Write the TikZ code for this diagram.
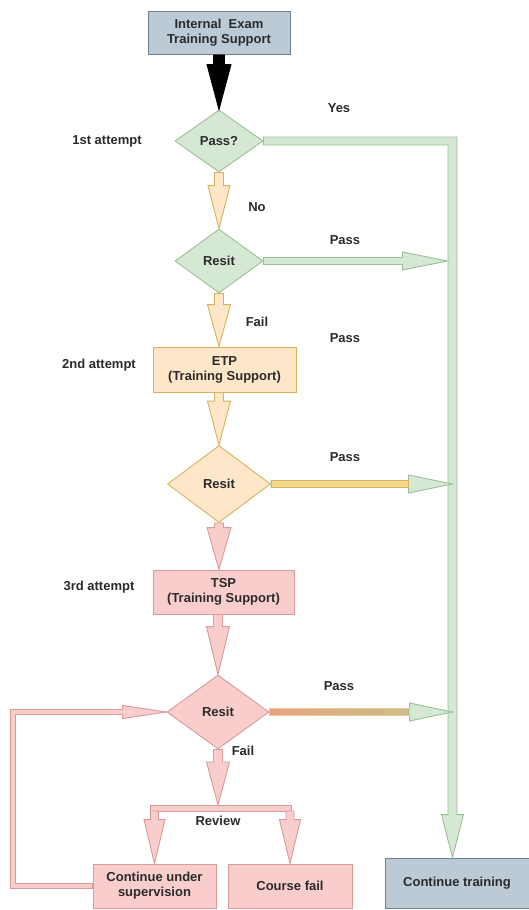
\documentclass[tikz,border=0pt]{standalone}
\usepackage{fontspec}
\setmainfont{Liberation Sans}
\usetikzlibrary{shapes.geometric,calc}

\definecolor{grnF}{HTML}{D5E8D4}
\definecolor{grnD}{HTML}{9CC096}
\definecolor{orgF}{HTML}{FEE6C8}
\definecolor{orgD}{HTML}{D8B25E}
\definecolor{pnkF}{HTML}{F8CDCC}
\definecolor{pnkD}{HTML}{D99A98}
\definecolor{bluF}{HTML}{BCCAD6}
\definecolor{bluD}{HTML}{6F8294}
\definecolor{ylwF}{HTML}{F3D98C}
\definecolor{ylwD}{HTML}{D6B656}
\definecolor{salF}{HTML}{E9A283}
\definecolor{tanF}{HTML}{C8BE88}
\definecolor{txt}{HTML}{2B2B2B}

% block arrow pointing down: style, from, to, shaft half-width, head half-width, head length
\newcommand\fatdown[6]{%
  \path[#1] let \p1=(#2), \p2=(#3) in
    (\x1-#4pt,\y1) -- (\x1-#4pt,\y2+#6pt) -- (\x1-#5pt,\y2+#6pt) -- (\x1,\y2)
    -- (\x1+#5pt,\y2+#6pt) -- (\x1+#4pt,\y2+#6pt) -- (\x1+#4pt,\y1) -- cycle;}
% block arrow pointing right: style, from, to, shaft half-height, head half-height, head length
\newcommand\fatright[6]{%
  \path[#1] let \p1=(#2), \p2=(#3) in
    (\x1,\y1+#4pt) -- (\x2-#6pt,\y1+#4pt) -- (\x2-#6pt,\y1+#5pt) -- (\x2,\y1)
    -- (\x2-#6pt,\y1-#5pt) -- (\x2-#6pt,\y1-#4pt) -- (\x1,\y1-#4pt) -- cycle;}
% shaft of a right block arrow only (for two-tone arrows)
\newcommand\fatshaft[5]{%
  \path[#1] let \p1=(#2), \p2=(#3) in
    (\x1,\y1+#4pt) rectangle (\x2-#5pt,\y1-#4pt);}

\tikzset{
  box/.style={draw, rectangle, align=center, inner sep=0pt, line width=0.9pt},
  decision/.style={draw, diamond, aspect=1.4, inner sep=0pt, line width=0.9pt, align=center},
  lbl/.style={inner sep=0pt},
  fatG/.style={fill=grnF, draw=grnD, line width=0.9pt, line join=miter},
  fatO/.style={fill=orgF, draw=orgD, line width=0.9pt, line join=miter},
  fatP/.style={fill=pnkF, draw=pnkD, line width=0.9pt, line join=miter},
  fatK/.style={fill=black, draw=black, line width=0.9pt, line join=miter},
}

\begin{document}
\begin{tikzpicture}[x=1pt, y=-1pt,
  font=\fontsize{13}{15}\selectfont\bfseries, every node/.append style={text=txt}]
\useasboundingbox[fill=white] (0,0) rectangle (529,910);

% nodes
\node[box, fill=bluF, draw=bluD, minimum width=142pt, minimum height=43pt] (start) at (219,33) {Internal~~Exam\\Training Support};
\node[decision, fill=grnF, draw=grnD, minimum width=88pt, minimum height=62pt] (pass) at (219,141) {Pass?};
\node[decision, fill=grnF, draw=grnD, minimum width=88pt, minimum height=64pt] (resitA) at (219,261) {Resit};
\node[box, fill=orgF, draw=orgD, minimum width=143pt, minimum height=45pt] (etp) at (224.5,369.5) {ETP\\(Training Support)};
\node[decision, fill=orgF, draw=orgD, minimum width=103pt, minimum height=77pt] (resitB) at (219,484) {Resit};
\node[box, fill=pnkF, draw=pnkD, minimum width=141pt, minimum height=44pt] (tsp) at (223.5,592) {TSP\\(Training Support)};
\node[decision, fill=pnkF, draw=pnkD, minimum width=102pt, minimum height=74pt] (resitC) at (218,712) {Resit};
\node[box, fill=pnkF, draw=pnkD, minimum width=123pt, minimum height=44pt] (cus) at (154.5,886) {Continue under\\supervision};
\node[box, fill=pnkF, draw=pnkD, minimum width=124pt, minimum height=44pt] (cfail) at (290,886) {Course fail};
\node[box, fill=bluF, draw=bluD, minimum width=144pt, minimum height=50pt] (ctrain) at (457,883) {Continue training};

% labels
\node[lbl] (lyes) at (339,108) {Yes};
\node[lbl] (lfirst) at (107,141) {1st attempt};
\node[lbl] (lno) at (257,207) {No};
\node[lbl] (lpassA) at (345,240) {Pass};
\node[lbl] (lfailA) at (257,322) {Fail};
\node[lbl] (lpassX) at (345,338) {Pass};
\node[lbl] (lsecond) at (99,365) {2nd attempt};
\node[lbl] (lpassB) at (345,457) {Pass};
\node[lbl] (lthird) at (99,587) {3rd attempt};
\node[lbl] (lpassC) at (339,686) {Pass};
\node[lbl] (lfailC) at (243,751) {Fail};
\node[lbl] (lreview) at (218,821) {Review};

% helper coordinates
\coordinate (trunk) at (452.5,139);
\coordinate (trunkIn) at (447.5,139);
\coordinate (barNW) at (150,805);
\coordinate (barSE) at (291,811);
\coordinate (loopx) at (13,800);

% main downward flow
\fatdown{fatK}{start.south}{pass.north}{5.5}{12}{45}
\fatdown{fatO}{pass.south}{resitA.north}{4.5}{11}{43}
\fatdown{fatO}{resitA.south}{resitA.south |- etp.north}{4.5}{11.5}{42}
\fatdown{fatO}{resitB.north |- etp.south}{resitB.north}{4.5}{11.5}{44}
\fatdown{fatP}{resitB.south}{resitB.south |- tsp.north}{4.5}{12}{42}
\fatdown{fatP}{resitC.north |- tsp.south}{resitC.north}{4.5}{11.5}{48}
\fatdown{fatP}{resitC.south}{resitC.south |- barNW}{4.5}{11.5}{43}

% review fork
\path[fatP] (barNW) rectangle (barSE);
\fatdown{fatP}{cus.north |- barSE}{cus.north}{4}{10.5}{44}
\fatdown{fatP}{cfail.north |- barSE}{cfail.north}{4}{10.5}{44}

% return loop from supervision back to the last resit
\path[fatP] let \p1=(cus.west), \p2=(resitC.west), \p3=(loopx) in
  (\x1,\y1+2.5pt) -- (\x3+2.5pt,\y1+2.5pt) -- (\x3+2.5pt,\y2-2.5pt) -- (\x2-44pt,\y2-2.5pt)
  -- (\x2-44pt,\y2-6.5pt) -- (\x2,\y2) -- (\x2-44pt,\y2+6.5pt) -- (\x2-44pt,\y2+2.5pt)
  -- (\x3-2.5pt,\y2+2.5pt) -- (\x3-2.5pt,\y1-2.5pt) -- (\x1,\y1-2.5pt) -- cycle;

% "Yes" trunk down to continue training
\path[fatG] let \p1=(pass.east), \p2=(trunk |- ctrain.north) in
  (\x1,\y1+4pt) -- (\x2+4.5pt,\y1+4pt) -- (\x2+4.5pt,\y2+43pt) -- (\x2+11pt,\y2+43pt)
  -- (\x2,\y2) -- (\x2-11pt,\y2+43pt) -- (\x2-4.5pt,\y2+43pt) -- (\x2-4.5pt,\y1-4pt)
  -- (\x1,\y1-4pt) -- cycle;

% pass branches into the trunk
\fatright{fatG}{resitA.east}{trunkIn |- resitA.east}{3.5}{9}{45}
\fatright{fatG}{resitB.east}{trunk |- resitB.east}{3.5}{9}{44}
\fatshaft{fill=ylwF, draw=ylwD, line width=0.9pt}{resitB.east}{trunk |- resitB.east}{3.5}{44}
\fatright{fatG}{resitC.east}{trunk |- resitC.east}{3.5}{9}{43}
\fatshaft{left color=salF, right color=tanF, draw=ylwD!70, line width=0.9pt}{resitC.east}{trunk |- resitC.east}{3.5}{43}
\end{tikzpicture}
\end{document}
